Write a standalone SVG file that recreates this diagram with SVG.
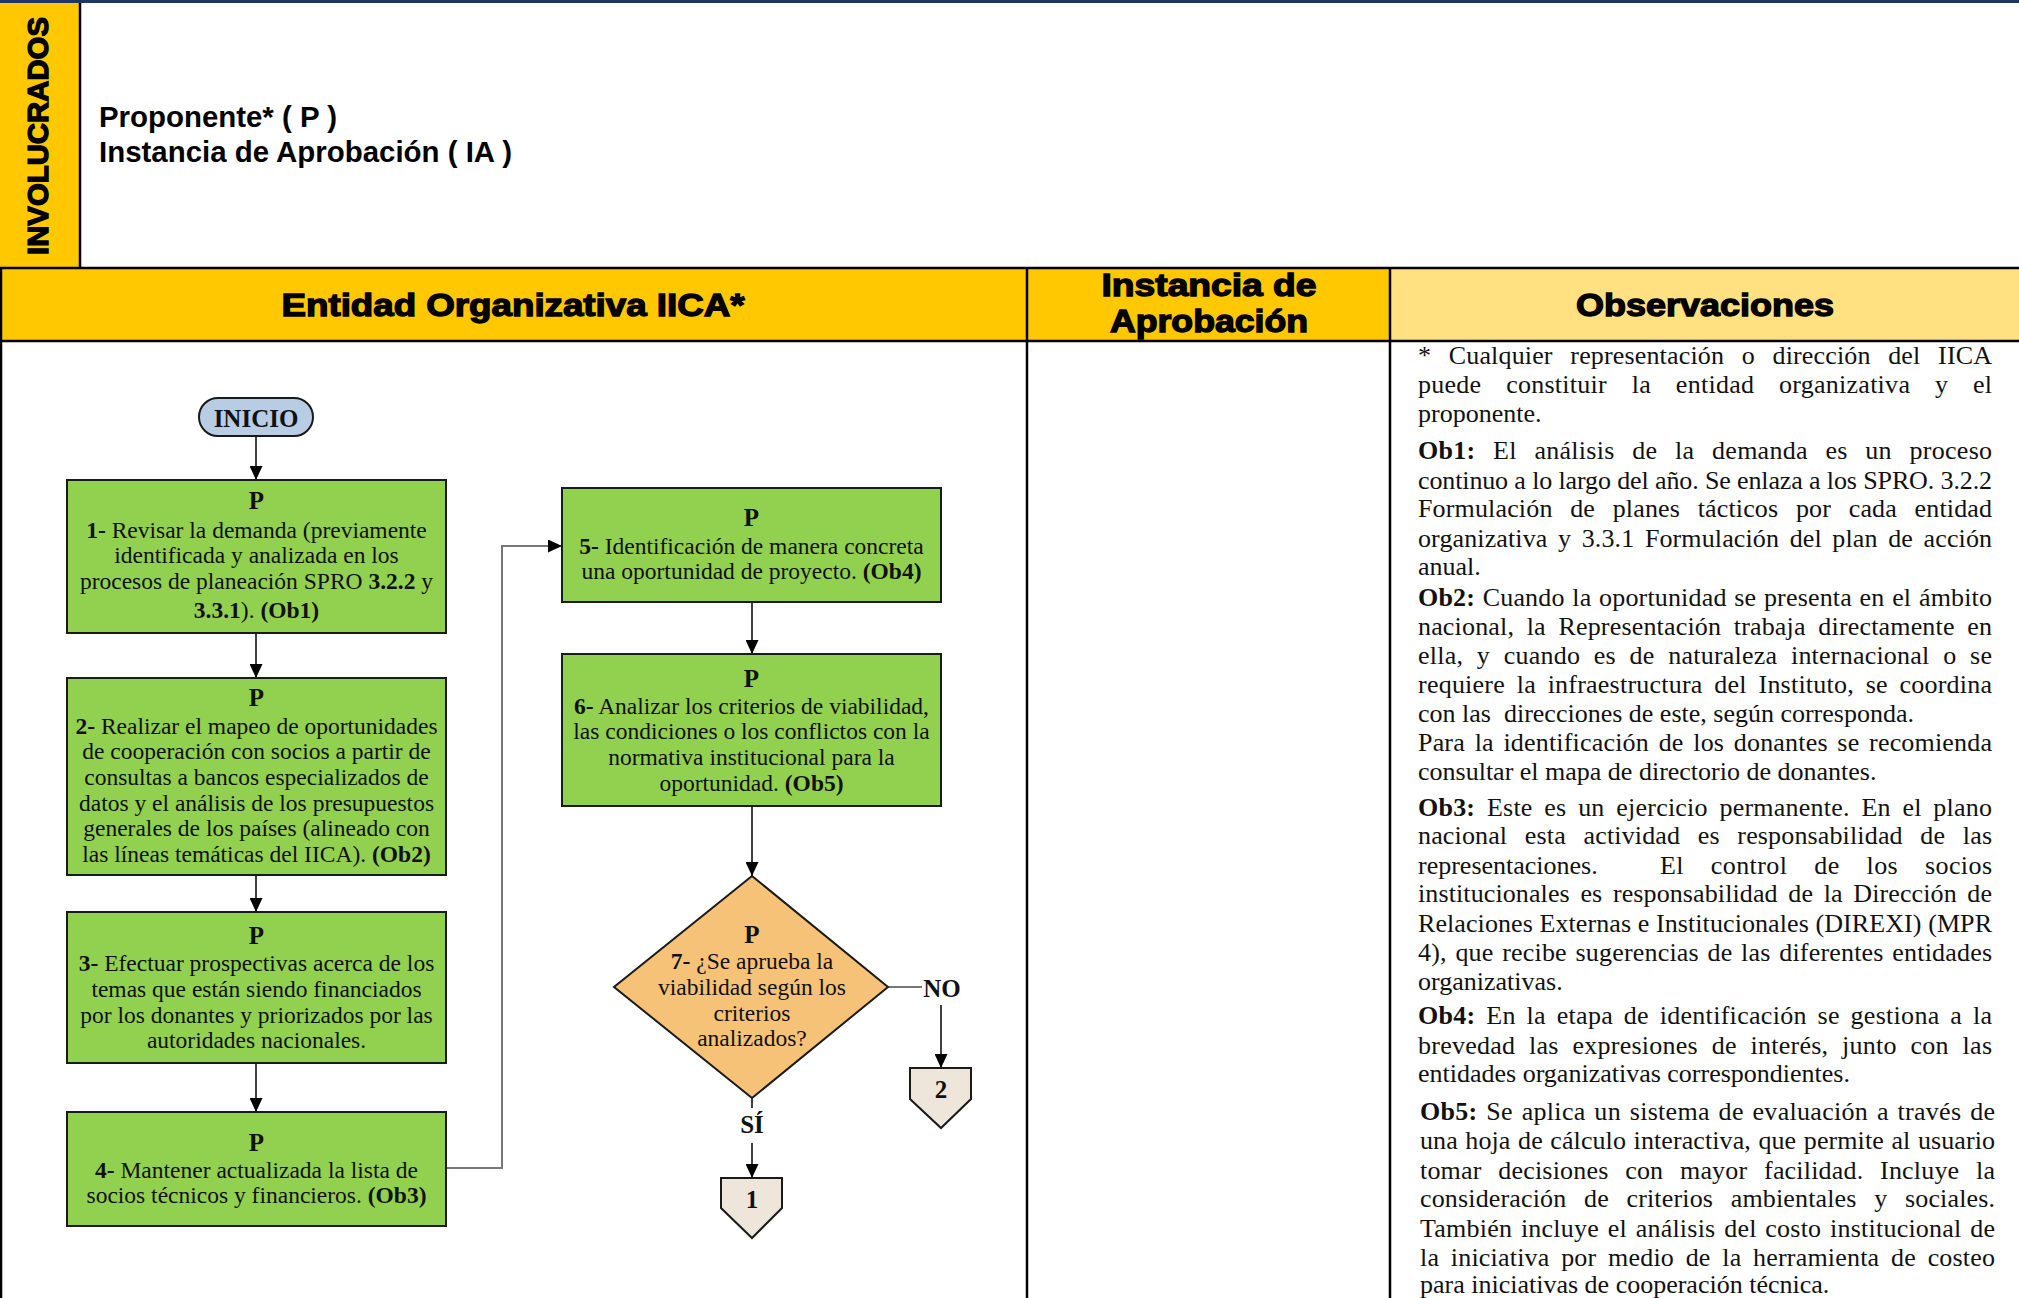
<svg xmlns="http://www.w3.org/2000/svg" width="2019" height="1298" viewBox="0 0 2019 1298">
<style>
.hdr{font-family:"Liberation Sans",Arial,sans-serif;font-weight:bold;fill:#000;stroke:#000;stroke-width:1.3;text-anchor:middle}
.inv{font-family:"Liberation Sans",Arial,sans-serif;font-weight:bold;font-size:29px;fill:#000}
.tline{stroke:#000;stroke-width:2.5;fill:none}
.box{fill:#92D050;stroke:#1a1a1a;stroke-width:2}
.bt{font-family:"Liberation Serif","Times New Roman",serif;font-size:23.5px;fill:#111;text-anchor:middle}
.pt{font-family:"Liberation Serif","Times New Roman",serif;font-size:25px;font-weight:bold;fill:#111;text-anchor:middle}
.lbl{font-family:"Liberation Serif","Times New Roman",serif;font-size:25px;font-weight:bold;fill:#111;text-anchor:middle}
.ob{font-family:"Liberation Serif","Times New Roman",serif;font-size:26px;fill:#111}
.con{stroke:#000;stroke-width:1.5;fill:none}
.cong{stroke:#777;stroke-width:2;fill:none}
.b{font-weight:bold}
</style>
<defs>
<marker id="ah" markerUnits="userSpaceOnUse" viewBox="0 0 14 13" refX="14" refY="6.5" markerWidth="14" markerHeight="13" orient="auto">
<path d="M0,0 L14,6.5 L0,13 z" fill="#000"/>
</marker>
</defs>
<rect x="0" y="0" width="2019" height="1298" fill="#fff"/>
<g id="table">
<rect x="0" y="0" width="2019" height="3" fill="#1F3763"/>
<rect x="0" y="3" width="80" height="265" fill="#FFC800"/>
<rect x="0" y="268" width="1390" height="73" fill="#FFC800"/>
<rect x="1390" y="268" width="629" height="73" fill="#FFE182"/>
<path class="tline" d="M80,3 V268 M0,268 H2019 M0,341 H2019 M1027,268 V1298 M1390,268 V1298 M1,268 V1298"/>
<text class="inv" transform="translate(48,136) rotate(-90)" text-anchor="middle" textLength="238" lengthAdjust="spacingAndGlyphs" stroke="#000" stroke-width="1.3">INVOLUCRADOS</text>
<text x="99" y="127" font-family="Liberation Sans, Arial, sans-serif" font-weight="bold" font-size="29.5" fill="#000" textLength="238" lengthAdjust="spacingAndGlyphs">Proponente* ( P )</text>
<text x="99" y="162" font-family="Liberation Sans, Arial, sans-serif" font-weight="bold" font-size="29.5" fill="#000" textLength="413" lengthAdjust="spacingAndGlyphs">Instancia de Aprobación ( IA )</text>
<text class="hdr" x="513" y="316" font-size="31" textLength="463" lengthAdjust="spacingAndGlyphs">Entidad Organizativa IICA*</text>
<text class="hdr" x="1209" y="296" font-size="31" textLength="215" lengthAdjust="spacingAndGlyphs">Instancia de</text>
<text class="hdr" x="1209" y="332" font-size="31" textLength="198" lengthAdjust="spacingAndGlyphs">Aprobación</text>
<text class="hdr" x="1705" y="316" font-size="31" textLength="258" lengthAdjust="spacingAndGlyphs">Observaciones</text>
</g>
<g id="connectors">
<path class="con" d="M256,436 V480" marker-end="url(#ah)"/>
<path class="con" d="M256,633 V678" marker-end="url(#ah)"/>
<path class="con" d="M256,875 V912" marker-end="url(#ah)"/>
<path class="con" d="M256,1063 V1112" marker-end="url(#ah)"/>
<path class="cong" d="M446,1168 H502 V546 H562" marker-end="url(#ah)"/>
<path class="con" d="M752,602 V654" marker-end="url(#ah)"/>
<path class="con" d="M752,806 V876" marker-end="url(#ah)"/>
<path class="cong" d="M888,987 H922"/>
<path class="con" stroke="#444" d="M941,1005 V1068" marker-end="url(#ah)"/>
<path class="con" stroke="#444" d="M752,1098 V1108"/>
<path class="con" stroke="#444" d="M752,1143 V1178" marker-end="url(#ah)"/>
<text class="lbl" x="942" y="997">NO</text>
<text class="lbl" x="752" y="1133">SÍ</text>
</g>
<g id="inicio">
<rect x="199" y="398" width="114" height="38" rx="19" fill="#B8CCE4" stroke="#1a1a1a" stroke-width="2"/>
<text class="lbl" x="256" y="427" font-size="28">INICIO</text>
</g>
<g id="step1">
<rect class="box" x="67" y="480" width="379" height="153"/>
<text class="pt" x="256.5" y="509">P</text>
<text class="bt" x="256.5" y="538"><tspan class="b">1-</tspan> Revisar la demanda (previamente</text>
<text class="bt" x="256.5" y="563">identificada y analizada en los</text>
<text class="bt" x="256.5" y="589">procesos de planeación SPRO <tspan class="b">3.2.2</tspan> y</text>
<text class="bt" x="256.5" y="618"><tspan class="b">3.3.1</tspan>). <tspan class="b">(Ob1)</tspan></text>
</g>
<g id="step2">
<rect class="box" x="67" y="678" width="379" height="197"/>
<text class="pt" x="256.5" y="706">P</text>
<text class="bt" x="256.5" y="734"><tspan class="b">2-</tspan> Realizar el mapeo de oportunidades</text>
<text class="bt" x="256.5" y="759">de cooperación con socios a partir de</text>
<text class="bt" x="256.5" y="785">consultas a bancos especializados de</text>
<text class="bt" x="256.5" y="811">datos y el análisis de los presupuestos</text>
<text class="bt" x="256.5" y="836">generales de los países (alineado con</text>
<text class="bt" x="256.5" y="862">las líneas temáticas del IICA). <tspan class="b">(Ob2)</tspan></text>
</g>
<g id="step3">
<rect class="box" x="67" y="912" width="379" height="151"/>
<text class="pt" x="256.5" y="944">P</text>
<text class="bt" x="256.5" y="971"><tspan class="b">3-</tspan> Efectuar prospectivas acerca de los</text>
<text class="bt" x="256.5" y="997">temas que están siendo financiados</text>
<text class="bt" x="256.5" y="1023">por los donantes y priorizados por las</text>
<text class="bt" x="256.5" y="1048">autoridades nacionales.</text>
</g>
<g id="step4">
<rect class="box" x="67" y="1112" width="379" height="114"/>
<text class="pt" x="256.5" y="1151">P</text>
<text class="bt" x="256.5" y="1178"><tspan class="b">4-</tspan> Mantener actualizada la lista de</text>
<text class="bt" x="256.5" y="1203">socios técnicos y financieros. <tspan class="b">(Ob3)</tspan></text>
</g>
<g id="step5">
<rect class="box" x="562" y="488" width="379" height="114"/>
<text class="pt" x="751.5" y="526">P</text>
<text class="bt" x="751.5" y="554"><tspan class="b">5-</tspan> Identificación de manera concreta</text>
<text class="bt" x="751.5" y="579">una oportunidad de proyecto. <tspan class="b">(Ob4)</tspan></text>
</g>
<g id="step6">
<rect class="box" x="562" y="654" width="379" height="152"/>
<text class="pt" x="751.5" y="687">P</text>
<text class="bt" x="751.5" y="714"><tspan class="b">6-</tspan> Analizar los criterios de viabilidad,</text>
<text class="bt" x="751.5" y="739">las condiciones o los conflictos con la</text>
<text class="bt" x="751.5" y="765">normativa institucional para la</text>
<text class="bt" x="751.5" y="791">oportunidad. <tspan class="b">(Ob5)</tspan></text>
</g>
<g id="step7">
<polygon points="752,876 888,987 752,1098 614,987" fill="#F6C277" stroke="#1a1a1a" stroke-width="2"/>
<text class="pt" x="752" y="943">P</text>
<text class="bt" x="752" y="969"><tspan class="b">7-</tspan> ¿Se aprueba la</text>
<text class="bt" x="752" y="995">viabilidad según los</text>
<text class="bt" x="752" y="1021">criterios</text>
<text class="bt" x="752" y="1046">analizados?</text>
</g>
<g id="conn1">
<polygon points="721,1178 782,1178 782,1208 752,1238 721,1208" fill="#EEE6DB" stroke="#1a1a1a" stroke-width="2"/>
<text class="lbl" x="752" y="1208" font-size="27">1</text>
</g>
<g id="conn2">
<polygon points="910,1068 971,1068 971,1099 941,1128 910,1099" fill="#EEE6DB" stroke="#1a1a1a" stroke-width="2"/>
<text class="lbl" x="941" y="1098" font-size="27">2</text>
</g>
<g id="observaciones">
<text class="ob" x="1418" y="364" word-spacing="11" textLength="574" lengthAdjust="spacing">* Cualquier representación o dirección del IICA</text>
<text class="ob" x="1418" y="393" word-spacing="18" textLength="574" lengthAdjust="spacing">puede constituir la entidad organizativa y el</text>
<text class="ob" x="1418" y="422">proponente.</text>
<text class="ob" x="1418" y="459" word-spacing="11" textLength="574" lengthAdjust="spacing"><tspan class="b">Ob1:</tspan> El análisis de la demanda es un proceso</text>
<text class="ob" x="1418" y="489" textLength="574" lengthAdjust="spacing">continuo a lo largo del año. Se enlaza a los SPRO. 3.2.2</text>
<text class="ob" x="1418" y="517" word-spacing="11" textLength="574" lengthAdjust="spacing">Formulación de planes tácticos por cada entidad</text>
<text class="ob" x="1418" y="547" word-spacing="4" textLength="574" lengthAdjust="spacing">organizativa y 3.3.1 Formulación del plan de acción</text>
<text class="ob" x="1418" y="575">anual.</text>
<text class="ob" x="1418" y="606" word-spacing="1" textLength="574" lengthAdjust="spacing"><tspan class="b">Ob2:</tspan> Cuando la oportunidad se presenta en el ámbito</text>
<text class="ob" x="1418" y="635" word-spacing="6" textLength="574" lengthAdjust="spacing">nacional, la Representación trabaja directamente en</text>
<text class="ob" x="1418" y="664" word-spacing="7" textLength="574" lengthAdjust="spacing">ella, y cuando es de naturaleza internacional o se</text>
<text class="ob" x="1418" y="693" word-spacing="5" textLength="574" lengthAdjust="spacing">requiere la infraestructura del Instituto, se coordina</text>
<text class="ob" x="1418" y="722" xml:space="preserve">con las  direcciones de este, según corresponda.</text>
<text class="ob" x="1418" y="751" word-spacing="3" textLength="574" lengthAdjust="spacing">Para la identificación de los donantes se recomienda</text>
<text class="ob" x="1418" y="780">consultar el mapa de directorio de donantes.</text>
<text class="ob" x="1418" y="816" word-spacing="5" textLength="574" lengthAdjust="spacing"><tspan class="b">Ob3:</tspan> Este es un ejercicio permanente. En el plano</text>
<text class="ob" x="1418" y="844" word-spacing="11" textLength="574" lengthAdjust="spacing">nacional esta actividad es responsabilidad de las</text>
<text class="ob" x="1418" y="874">representaciones.</text>
<text class="ob" x="1660" y="874" word-spacing="20" textLength="332" lengthAdjust="spacing">El control de los socios</text>
<text class="ob" x="1418" y="902" word-spacing="4" textLength="574" lengthAdjust="spacing">institucionales es responsabilidad de la Dirección de</text>
<text class="ob" x="1418" y="932" textLength="574" lengthAdjust="spacing">Relaciones Externas e Institucionales (DIREXI) (MPR</text>
<text class="ob" x="1418" y="961" word-spacing="2" textLength="574" lengthAdjust="spacing">4), que recibe sugerencias de las diferentes entidades</text>
<text class="ob" x="1418" y="990">organizativas.</text>
<text class="ob" x="1418" y="1024" word-spacing="4" textLength="574" lengthAdjust="spacing"><tspan class="b">Ob4:</tspan> En la etapa de identificación se gestiona a la</text>
<text class="ob" x="1418" y="1054" word-spacing="7" textLength="574" lengthAdjust="spacing">brevedad las expresiones de interés, junto con las</text>
<text class="ob" x="1418" y="1082">entidades organizativas correspondientes.</text>
<text class="ob" x="1420" y="1120" word-spacing="2" textLength="575" lengthAdjust="spacing"><tspan class="b">Ob5:</tspan> Se aplica un sistema de evaluación a través de</text>
<text class="ob" x="1420" y="1149" word-spacing="1" textLength="575" lengthAdjust="spacing">una hoja de cálculo interactiva, que permite al usuario</text>
<text class="ob" x="1420" y="1179" word-spacing="10" textLength="575" lengthAdjust="spacing">tomar decisiones con mayor facilidad. Incluye la</text>
<text class="ob" x="1420" y="1207" word-spacing="11" textLength="575" lengthAdjust="spacing">consideración de criterios ambientales y sociales.</text>
<text class="ob" x="1420" y="1237" word-spacing="2" textLength="575" lengthAdjust="spacing">También incluye el análisis del costo institucional de</text>
<text class="ob" x="1420" y="1266" word-spacing="5" textLength="575" lengthAdjust="spacing">la iniciativa por medio de la herramienta de costeo</text>
<text class="ob" x="1420" y="1293">para iniciativas de cooperación técnica.</text>
</g>
</svg>
